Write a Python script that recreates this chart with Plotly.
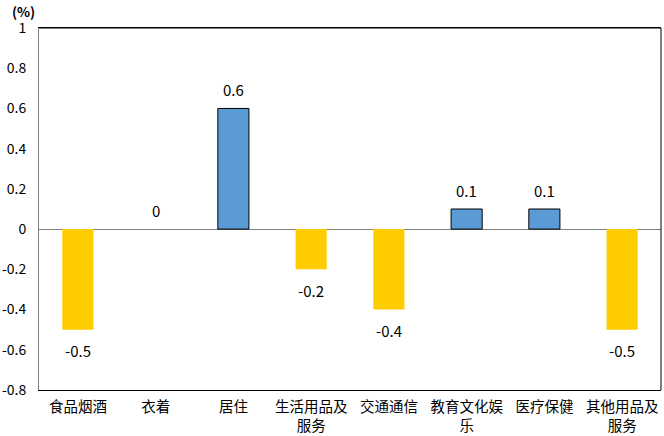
import plotly.graph_objects as go

categories = ["食品烟酒", "衣着", "居住", "生活用品及<br>服务", "交通通信", "教育文化娱<br>乐", "医疗保健", "其他用品及<br>服务"]
values = [-0.5, 0, 0.6, -0.2, -0.4, 0.1, 0.1, -0.5]
tick_vals = [-0.8, -0.6, -0.4, -0.2, 0, 0.2, 0.4, 0.6, 0.8, 1]
tick_text = ["-0.8", "-0.6", "-0.4", "-0.2", "0", "0.2", "0.4", "0.6", "0.8", "1"]

BLUE = "#5B9BD5"
YELLOW = "#FFCC00"
FONT = "Noto Sans CJK SC"

colors = [BLUE if v > 0 else YELLOW for v in values]
line_w = [1 if v > 0 else 0 for v in values]

fig = go.Figure(go.Bar(
    x=categories, y=values, width=0.4,
    marker=dict(color=colors, line=dict(color="black", width=line_w)),
    hoverinfo="skip",
))

for c, v in zip(categories, values):
    fig.add_annotation(x=c, y=v, text=f"{v:g}", showarrow=False,
                       yshift=(-21 if v < 0 else 19),
                       font=dict(family=FONT, size=15, color="black"))

fig.add_annotation(xref="paper", yref="paper", x=-0.0257, y=1.0, yshift=17,
                   text="<b>(%)</b>", showarrow=False, xanchor="center", yanchor="middle",
                   font=dict(family=FONT, size=13.5, color="black"))

fig.update_layout(
    width=664, height=436,
    margin=dict(l=39, r=3, t=28, b=46),
    paper_bgcolor="white", plot_bgcolor="white",
    showlegend=False,
    font=dict(family=FONT, size=14, color="black"),
    xaxis=dict(showgrid=False, showline=True, mirror=True, linecolor="black", linewidth=1,
               ticks="", tickfont=dict(family=FONT, size=14.5), ticklabelstandoff=4,
               automargin=False),
    yaxis=dict(range=[-0.8, 1], tickvals=tick_vals, ticktext=tick_text,
               showgrid=False, showline=True, linecolor="#808080", linewidth=1,
               zeroline=True, zerolinecolor="#808080", zerolinewidth=1,
               ticks="", tickfont=dict(family=FONT, size=14), ticklabelstandoff=9,
               automargin=False),
)
fig.add_shape(type="line", xref="paper", yref="paper", x0=0, x1=1, y0=1, y1=1,
              line=dict(color="black", width=1))
fig.add_shape(type="line", xref="paper", yref="paper", x0=1, x1=1, y0=0, y1=1,
              line=dict(color="black", width=1))

fig.write_html("out.html", config={"displayModeBar": False},
               post_script="document.body.style.margin='0';")
